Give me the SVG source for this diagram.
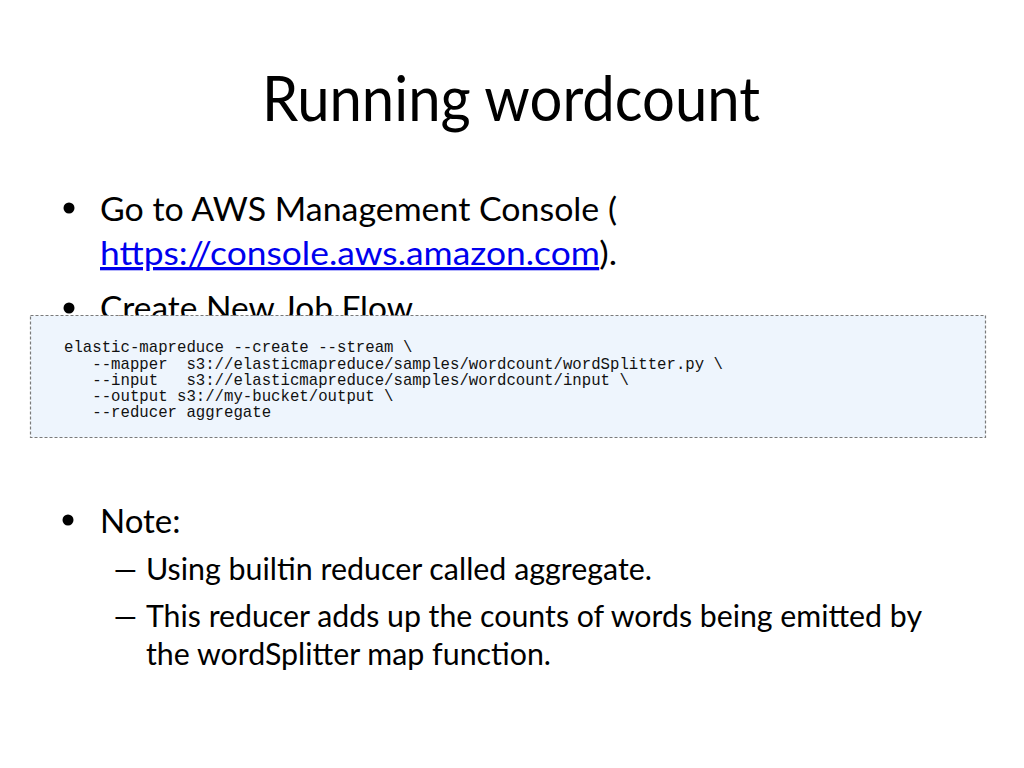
<svg xmlns="http://www.w3.org/2000/svg" width="1024" height="768" viewBox="0 0 1024 768">
<style>
.t{font-family:Lato,"Open Sans","Liberation Sans",sans-serif;fill:#000}
.title{font-size:61px}
.b{font-size:33px}
.s{font-size:30px}
.code{font-family:"Liberation Mono","DejaVu Sans Mono",monospace;font-size:15.7px;fill:#111;white-space:pre}
.link{fill:#0000ee}
</style>
<rect width="1024" height="768" fill="#fff"/>
<g id="title">
<text class="t title" x="262" y="121" textLength="498" lengthAdjust="spacingAndGlyphs">Running wordcount</text>
</g>
<g id="bullet1">
<circle cx="69" cy="208" r="5.5" fill="#000"/>
<text class="t b" x="100" y="221" textLength="517" lengthAdjust="spacingAndGlyphs">Go to AWS Management Console (</text>
<text class="t b" x="100" y="265" textLength="517" lengthAdjust="spacingAndGlyphs"><tspan class="link" text-decoration="underline">https://console.aws.amazon.com</tspan>).</text>
</g>
<g id="bullet2">
<circle cx="69" cy="308" r="5.5" fill="#000"/>
<text class="t b" x="100" y="320" textLength="313" lengthAdjust="spacingAndGlyphs">Create New Job Flow</text>
</g>
<g id="codebox">
<rect x="30.5" y="315.5" width="955" height="122" fill="#eef5fd" stroke="#7a7a7a" stroke-width="1.2" stroke-dasharray="3 2"/>
<text class="code" x="64" y="352">elastic-mapreduce --create --stream \</text>
<text class="code" x="64" y="368.5">   --mapper  s3://elasticmapreduce/samples/wordcount/wordSplitter.py \</text>
<text class="code" x="64" y="385">   --input   s3://elasticmapreduce/samples/wordcount/input \</text>
<text class="code" x="64" y="401">   --output s3://my-bucket/output \</text>
<text class="code" x="64" y="417">   --reducer aggregate</text>
</g>
<g id="bullet3">
<circle cx="68" cy="520" r="5.5" fill="#000"/>
<text class="t b" x="100" y="533">Note:</text>
<text class="t s" transform="translate(111,580) scale(1.65,1)" x="0" y="0">–</text>
<text class="t s" x="146" y="580" textLength="506" lengthAdjust="spacingAndGlyphs">Using builtin reducer called aggregate.</text>
<text class="t s" transform="translate(111,627) scale(1.65,1)" x="0" y="0">–</text>
<text class="t s" x="146" y="627" textLength="776" lengthAdjust="spacingAndGlyphs">This reducer adds up the counts of words being emitted by</text>
<text class="t s" x="146" y="665" textLength="405" lengthAdjust="spacingAndGlyphs">the wordSplitter map function.</text>
</g>
</svg>
